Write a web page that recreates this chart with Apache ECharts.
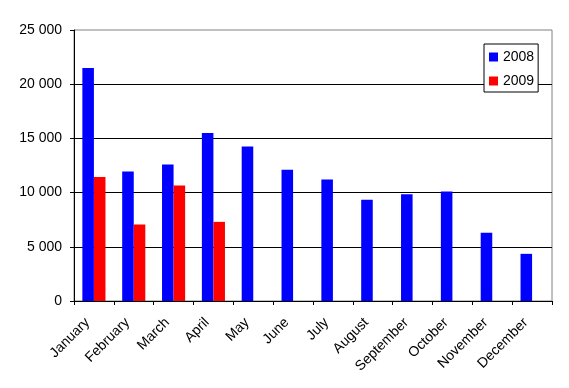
<!DOCTYPE html>
<html>
<head>
<meta charset="utf-8">
<script src="https://cdn.jsdelivr.net/npm/echarts@6/dist/echarts.min.js"></script>
<style>
html,body{margin:0;padding:0;background:#fff;}
#chart{width:569px;height:388px;}
</style>
</head>
<body>
<div id="chart"></div>
<script>
var months = ['January','February','March','April','May','June','July','August','September','October','November','December'];
var values2008 = [21500, 11950, 12600, 15500, 14250, 12100, 11200, 9350, 9850, 10100, 6300, 4350];
var values2009 = [11450, 7050, 10650, 7300, null, null, null, null, null, null, null, null];
var seriesNames = ['2008', '2009'];

var chart = echarts.init(document.getElementById('chart'), null, {renderer: 'canvas'});
var font = '"Liberation Sans", Arial, sans-serif';
chart.setOption({
  animation: false,
  backgroundColor: '#ffffff',
  grid: {left: 74, top: 30, right: 17, bottom: 87, show: true, borderColor: '#808080', borderWidth: 1, backgroundColor: 'transparent'},
  legend: {
    orient: 'vertical',
    left: 484, top: 44,
    padding: [5, 4, 3, 5],
    itemWidth: 9, itemHeight: 9, itemGap: 8,
    backgroundColor: '#ffffff',
    borderColor: '#000000', borderWidth: 1,
    icon: 'rect',
    textStyle: {fontFamily: font, fontSize: 14, color: '#000', lineHeight: 16},
    data: seriesNames
  },
  xAxis: {
    type: 'category',
    data: months,
    axisLine: {lineStyle: {color: '#000', width: 1}},
    axisTick: {show: true, length: 4, lineStyle: {color: '#000'}},
    axisLabel: {rotate: 45, fontFamily: font, fontSize: 14, color: '#000', margin: 13, padding: [0, 9, 0, 0], interval: 0}
  },
  yAxis: {
    type: 'value',
    min: 0, max: 25000, interval: 5000,
    axisLine: {show: true, lineStyle: {color: '#000', width: 1}},
    axisTick: {show: true, length: 4, lineStyle: {color: '#000'}},
    splitLine: {show: true, showMaxLine: false, lineStyle: {color: '#000', width: 1}},
    axisLabel: {
      fontFamily: font, fontSize: 14, color: '#000', margin: 12,
      formatter: function (v) { return String(v).replace(/\B(?=(\d{3})+(?!\d))/g, ' '); }
    }
  },
  series: [
    {name: seriesNames[0], type: 'bar', data: values2008, itemStyle: {color: '#0000ff'}, barGap: '0%', barCategoryGap: '42%'},
    {name: seriesNames[1], type: 'bar', data: values2009, itemStyle: {color: '#ff0000'}, barGap: '0%', barCategoryGap: '42%'}
  ]
});
</script>
</body>
</html>
